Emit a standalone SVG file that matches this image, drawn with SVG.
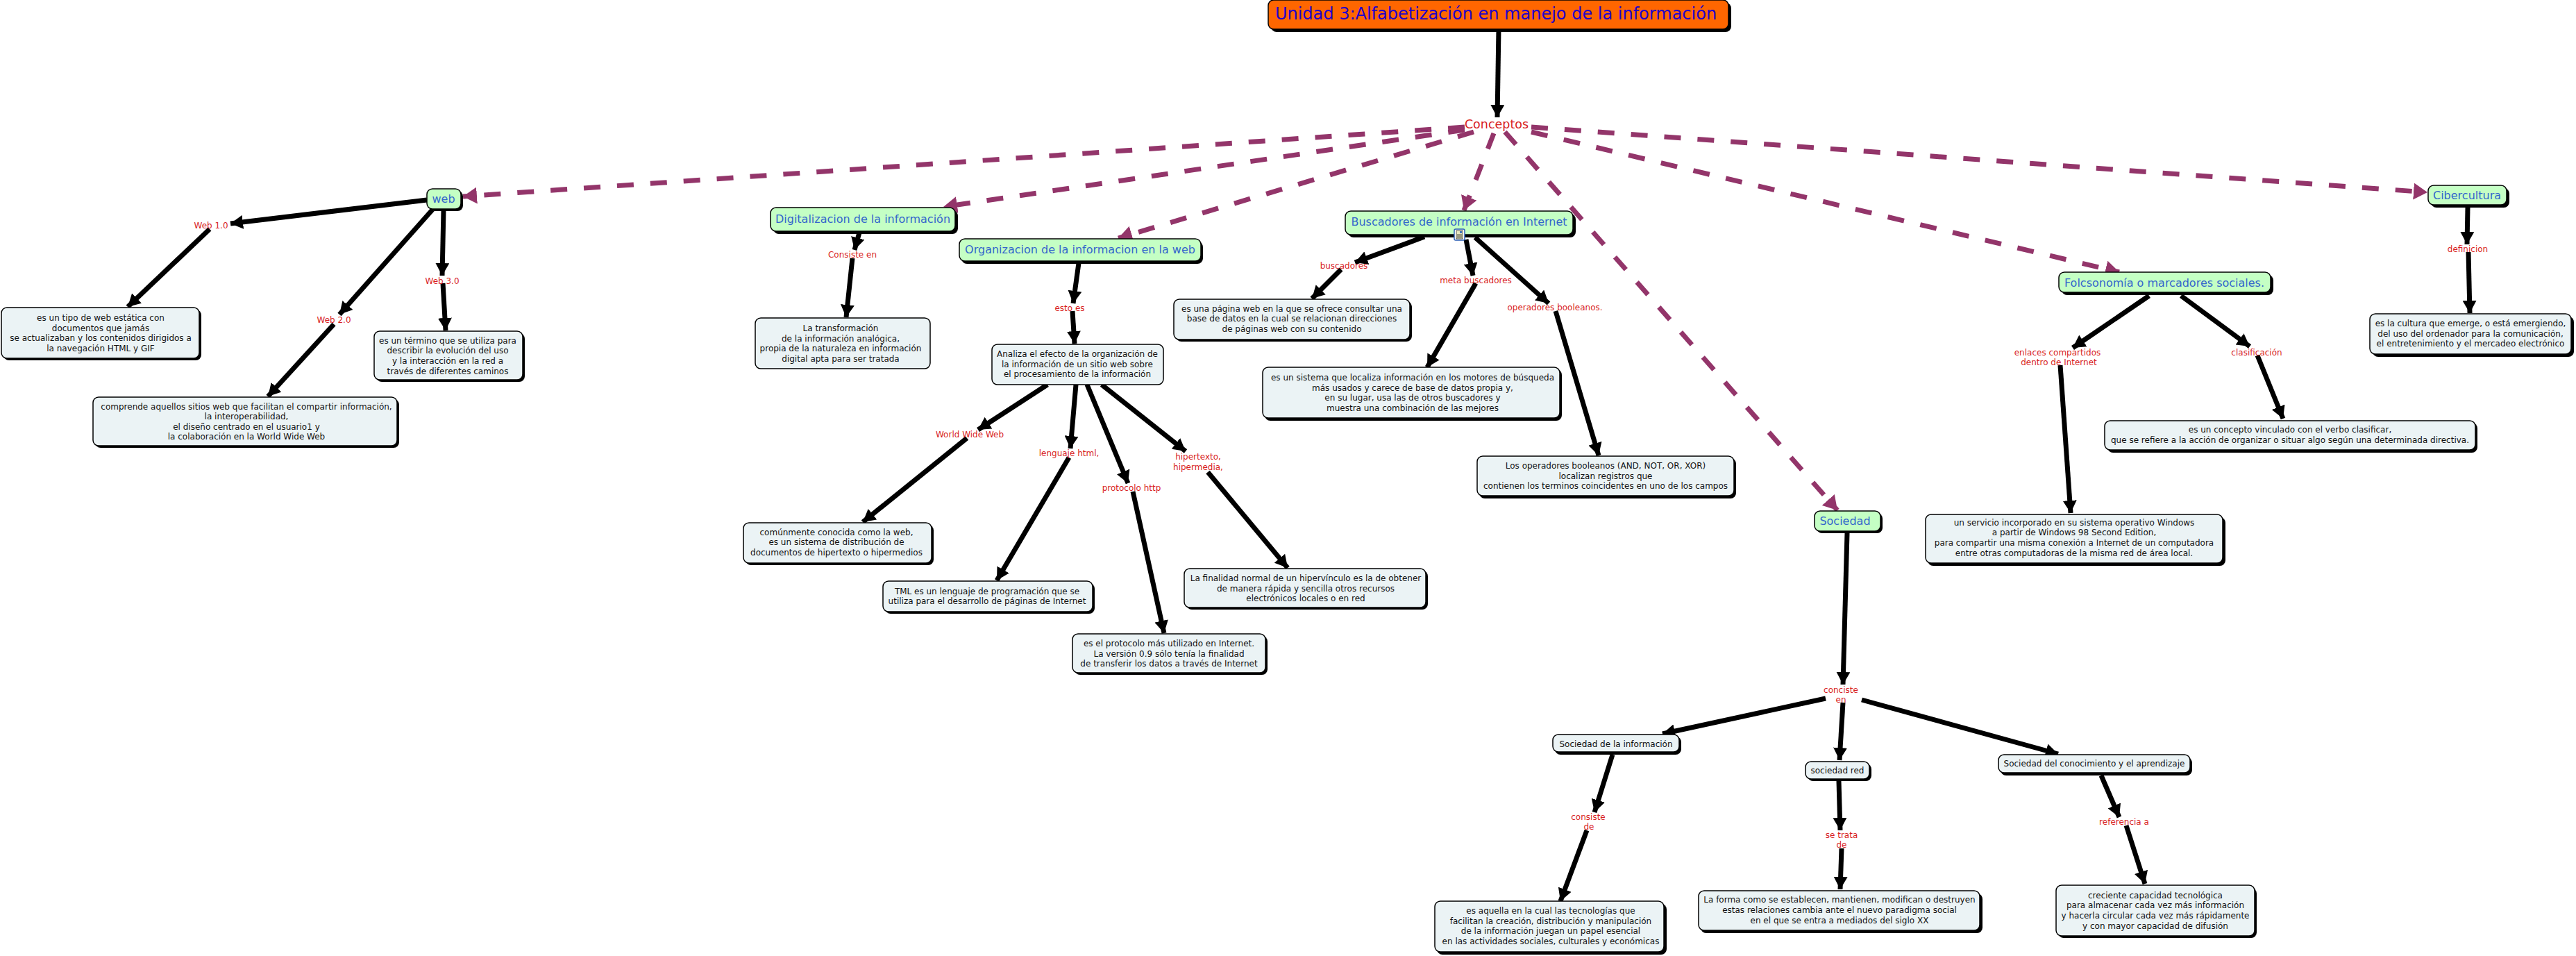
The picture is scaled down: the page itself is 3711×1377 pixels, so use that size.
<svg xmlns="http://www.w3.org/2000/svg" width="3711" height="1377" viewBox="0 0 3711 1377">
<style>
text{font-family:"DejaVu Sans",sans-serif;text-anchor:middle}
.s{fill:#000}
.c{fill:#c4ffc4;stroke:#000;stroke-width:1.5}
.d{fill:#ebf3f5;stroke:#000;stroke-width:1.5}
.ct{font-size:16px;fill:#3366cc}
.dt{font-size:12px;fill:#111}
.lt{font-size:12px;fill:#d81e24}
.a{stroke:#000;stroke-width:7;fill:none;marker-end:url(#ah)}
.b{stroke:#93356a;stroke-width:7;fill:none;stroke-dasharray:24 24;marker-end:url(#ap)}
</style>
<defs>
<marker id="ah" markerUnits="userSpaceOnUse" markerWidth="20" markerHeight="20" refX="18" refY="10" orient="auto"><path d="M0 0L18 10L0 20Z" fill="#000"/></marker>
<marker id="ap" markerUnits="userSpaceOnUse" markerWidth="22" markerHeight="24" refX="20" refY="12" orient="auto"><path d="M0 0L20 12L0 24Z" fill="#93356a"/></marker>
</defs>
<rect width="3711" height="1377" fill="#fff"/>
<g id="connectors">
<path class="a" d="M2159 42L2157 169"/>
<path class="b" d="M2110 183L667 283"/>
<path class="b" d="M2110 187L1359 298"/>
<path class="b" d="M2123 190L1611 343"/>
<path class="b" d="M2152 192L2109 303"/>
<path class="b" d="M2168 190L2647 735"/>
<path class="b" d="M2206 190L3053 392"/>
<path class="b" d="M2206 183L3497 277"/>
<path class="a" d="M615 288L332 322"/>
<path class="a" d="M302 330L184 442"/>
<path class="a" d="M623 302L489 453"/>
<path class="a" d="M481 467L386 571"/>
<path class="a" d="M639 303L637 397"/>
<path class="a" d="M638 408L642 476"/>
<path class="a" d="M1238 335L1231 360"/>
<path class="a" d="M1228 372L1219 457"/>
<path class="a" d="M1554 379L1546 437"/>
<path class="a" d="M1545 448L1548 495"/>
<path class="a" d="M1509 554L1409 619"/>
<path class="a" d="M1393 631L1243 752"/>
<path class="a" d="M1550 554L1542 646"/>
<path class="a" d="M1540 659L1436 836"/>
<path class="a" d="M1566 554L1625 696"/>
<path class="a" d="M1632 708L1677 912"/>
<path class="a" d="M1587 554L1708 650"/>
<path class="a" d="M1740 680L1855 818"/>
<path class="a" d="M2052 341L1952 378"/>
<path class="a" d="M1932 388L1890 430"/>
<path class="a" d="M2112 345L2122 397"/>
<path class="a" d="M2126 408L2056 529"/>
<path class="a" d="M2125 342L2231 437"/>
<path class="a" d="M2241 448L2303 656"/>
<path class="a" d="M3096 426L2986 501"/>
<path class="a" d="M2968 526L2983 739"/>
<path class="a" d="M3142 426L3241 499"/>
<path class="a" d="M3252 512L3289 603"/>
<path class="a" d="M3555 299L3554 352"/>
<path class="a" d="M3556 363L3558 451"/>
<path class="a" d="M2661 768L2655 986"/>
<path class="a" d="M2630 1006L2395 1057"/>
<path class="a" d="M2655 1012L2650 1095"/>
<path class="a" d="M2682 1008L2965 1086"/>
<path class="a" d="M2323 1087L2297 1170"/>
<path class="a" d="M2286 1196L2248 1298"/>
<path class="a" d="M2649 1125L2651 1196"/>
<path class="a" d="M2653 1222L2651 1281"/>
<path class="a" d="M3027 1117L3053 1177"/>
<path class="a" d="M3063 1189L3090 1273"/>
</g>
<g id="n-root"><rect class="s" x="1831" y="4" width="663" height="42" rx="8"/><rect x="1827" y="0" width="663" height="42" rx="8" fill="#ff6600" stroke="#000" stroke-width="1.5"/><text x="2155" y="28" font-size="24" fill="#2200cc">Unidad 3:Alfabetización en manejo de la información</text></g>
<g id="n-conceptos"><text x="2156" y="185" font-size="17.5" fill="#d81e24">Conceptos</text></g>
<g id="n-web"><rect class="s" x="618" y="275" width="49" height="29" rx="8"/><rect class="c" x="615" y="272" width="49" height="29" rx="8"/><text class="ct" x="639" y="292">web</text></g>
<g id="n-dig"><rect class="s" x="1114" y="303" width="266" height="34" rx="8"/><rect class="c" x="1110" y="299" width="266" height="34" rx="8"/><text class="ct" x="1243" y="321">Digitalizacion de la información</text></g>
<g id="n-org"><rect class="s" x="1385" y="348" width="348" height="32" rx="8"/><rect class="c" x="1382" y="344" width="348" height="32" rx="8"/><text class="ct" x="1556" y="365">Organizacion de la informacion en la web</text></g>
<g id="n-bus"><rect class="s" x="1942" y="308" width="328" height="34" rx="8"/><rect class="c" x="1938" y="304" width="328" height="34" rx="8"/><text class="ct" x="2102" y="325">Buscadores de información en Internet</text></g>
<g id="n-soc"><rect class="s" x="2617" y="739" width="95" height="29" rx="8"/><rect class="c" x="2614" y="736" width="95" height="29" rx="8"/><text class="ct" x="2658" y="756">Sociedad</text></g>
<g id="n-fol"><rect class="s" x="2970" y="396" width="305" height="29" rx="8"/><rect class="c" x="2966" y="392" width="305" height="29" rx="8"/><text class="ct" x="3118" y="413">Folcsonomía o marcadores sociales.</text></g>
<g id="n-cib"><rect class="s" x="3502" y="271" width="113" height="28" rx="8"/><rect class="c" x="3498" y="267" width="113" height="28" rx="8"/><text class="ct" x="3554" y="287">Cibercultura</text></g>
<g id="l-web1"><text class="lt" x="304" y="329">Web 1.0</text></g>
<g id="l-web2"><text class="lt" x="481" y="465">Web 2.0</text></g>
<g id="l-web3"><text class="lt" x="637" y="409">Web 3.0</text></g>
<g id="l-cons"><text class="lt" x="1228" y="371">Consiste en</text></g>
<g id="l-esto"><text class="lt" x="1541" y="448">esto es</text></g>
<g id="l-www"><text class="lt" x="1397" y="630">World Wide Web</text></g>
<g id="l-len"><text class="lt" x="1540" y="657">lenguaje html,</text></g>
<g id="l-pro"><text class="lt" x="1630" y="707">protocolo http</text></g>
<g id="l-hip"><text class="lt" x="1726" y="662">hipertexto,</text><text class="lt" x="1726" y="677">hipermedia,</text></g>
<g id="l-bus"><text class="lt" x="1936" y="387">buscadores</text></g>
<g id="l-met"><text class="lt" x="2126" y="408">meta buscadores</text></g>
<g id="l-ope"><text class="lt" x="2240" y="447">operadores booleanos.</text></g>
<g id="l-enl"><text class="lt" x="2964" y="512">enlaces compartidos</text><text class="lt" x="2966" y="526">dentro de Internet</text></g>
<g id="l-cla"><text class="lt" x="3251" y="512">clasificación</text></g>
<g id="l-def"><text class="lt" x="3555" y="363">definicion</text></g>
<g id="l-con"><text class="lt" x="2652" y="998">conciste</text><text class="lt" x="2652" y="1012">en</text></g>
<g id="l-csi"><text class="lt" x="2288" y="1181">consiste</text><text class="lt" x="2289" y="1195">de</text></g>
<g id="l-set"><text class="lt" x="2653" y="1207">se trata</text><text class="lt" x="2653" y="1221">de</text></g>
<g id="l-ref"><text class="lt" x="3060" y="1188">referencia a</text></g>
<g id="n-d1"><rect class="s" x="5" y="446" width="285" height="73" rx="8"/><rect class="d" x="2" y="443" width="285" height="73" rx="8"/><text class="dt" x="145" y="462">es un tipo de web estática con</text><text class="dt" x="145" y="477">documentos que jamás</text><text class="dt" x="145" y="491">se actualizaban y los contenidos dirigidos a</text><text class="dt" x="145" y="506">la navegación HTML y GIF</text></g>
<g id="n-d2"><rect class="s" x="137" y="575" width="438" height="70" rx="8"/><rect class="d" x="134" y="572" width="438" height="70" rx="8"/><text class="dt" x="355" y="590">comprende aquellos sitios web que facilitan el compartir información,</text><text class="dt" x="355" y="604">la interoperabilidad,</text><text class="dt" x="355" y="619">el diseño centrado en el usuario1 y</text><text class="dt" x="355" y="633">la colaboración en la World Wide Web</text></g>
<g id="n-d3"><rect class="s" x="542" y="480" width="214" height="70" rx="8"/><rect class="d" x="539" y="477" width="214" height="70" rx="8"/><text class="dt" x="645" y="495">es un término que se utiliza para</text><text class="dt" x="645" y="509">describir la evolución del uso</text><text class="dt" x="645" y="524">y la interacción en la red a</text><text class="dt" x="645" y="539">través de diferentes caminos</text></g>
<g id="n-d4"><rect class="d" x="1088" y="458" width="252" height="73" rx="8"/><text class="dt" x="1211" y="477">La transformación</text><text class="dt" x="1211" y="492">de la información analógica,</text><text class="dt" x="1211" y="506">propia de la naturaleza en información</text><text class="dt" x="1211" y="521">digital apta para ser tratada</text></g>
<g id="n-d5"><rect class="d" x="1429" y="496" width="247" height="58" rx="8"/><text class="dt" x="1552" y="514">Analiza el efecto de la organización de</text><text class="dt" x="1552" y="529">la información de un sitio web sobre</text><text class="dt" x="1552" y="543">el procesamiento de la información</text></g>
<g id="n-d6"><rect class="s" x="1074" y="756" width="271" height="58" rx="8"/><rect class="d" x="1071" y="753" width="271" height="58" rx="8"/><text class="dt" x="1205" y="771">comúnmente conocida como la web,</text><text class="dt" x="1205" y="785">es un sistema de distribución de</text><text class="dt" x="1205" y="800">documentos de hipertexto o hipermedios</text></g>
<g id="n-d7"><rect class="s" x="1275" y="840" width="302" height="44" rx="8"/><rect class="d" x="1272" y="837" width="302" height="44" rx="8"/><text class="dt" x="1422" y="856">TML es un lenguaje de programación que se</text><text class="dt" x="1422" y="870">utiliza para el desarrollo de páginas de Internet</text></g>
<g id="n-d8"><rect class="s" x="1548" y="916" width="278" height="56" rx="8"/><rect class="d" x="1545" y="913" width="278" height="56" rx="8"/><text class="dt" x="1684" y="931">es el protocolo más utilizado en Internet.</text><text class="dt" x="1684" y="946">La versión 0.9 sólo tenía la finalidad</text><text class="dt" x="1684" y="960">de transferir los datos a través de Internet</text></g>
<g id="n-d9"><rect class="s" x="1709" y="822" width="348" height="56" rx="8"/><rect class="d" x="1706" y="819" width="348" height="56" rx="8"/><text class="dt" x="1881" y="837">La finalidad normal de un hipervínculo es la de obtener</text><text class="dt" x="1881" y="852">de manera rápida y sencilla otros recursos</text><text class="dt" x="1881" y="866">electrónicos locales o en red</text></g>
<g id="n-d10"><rect class="s" x="1694" y="434" width="340" height="58" rx="8"/><rect class="d" x="1691" y="431" width="340" height="58" rx="8"/><text class="dt" x="1861" y="449">es una página web en la que se ofrece consultar una</text><text class="dt" x="1861" y="463">base de datos en la cual se relacionan direcciones</text><text class="dt" x="1861" y="478">de páginas web con su contenido</text></g>
<g id="n-d11"><rect class="s" x="1822" y="532" width="428" height="74" rx="8"/><rect class="d" x="1819" y="529" width="428" height="73" rx="8"/><text class="dt" x="2035" y="548">es un sistema que localiza información en los motores de búsqueda</text><text class="dt" x="2035" y="563">más usados y carece de base de datos propia y,</text><text class="dt" x="2035" y="577">en su lugar, usa las de otros buscadores y</text><text class="dt" x="2035" y="592">muestra una combinación de las mejores</text></g>
<g id="n-d12"><rect class="s" x="2131" y="660" width="370" height="58" rx="8"/><rect class="d" x="2128" y="657" width="370" height="57" rx="8"/><text class="dt" x="2313" y="675">Los operadores booleanos (AND, NOT, OR, XOR)</text><text class="dt" x="2313" y="690">localizan registros que</text><text class="dt" x="2313" y="704">contienen los terminos coincidentes en uno de los campos</text></g>
<g id="n-d13"><rect class="s" x="2777" y="745" width="429" height="70" rx="8"/><rect class="d" x="2774" y="741" width="428" height="70" rx="8"/><text class="dt" x="2988" y="757">un servicio incorporado en su sistema operativo Windows</text><text class="dt" x="2988" y="771">a partir de Windows 98 Second Edition,</text><text class="dt" x="2988" y="786">para compartir una misma conexión a Internet de un computadora</text><text class="dt" x="2988" y="801">entre otras computadoras de la misma red de área local.</text></g>
<g id="n-d14"><rect class="s" x="3036" y="609" width="533" height="43" rx="8"/><rect class="d" x="3032" y="606" width="534" height="42" rx="8"/><text class="dt" x="3299" y="623">es un concepto vinculado con el verbo clasificar,</text><text class="dt" x="3299" y="638">que se refiere a la acción de organizar o situar algo según una determinada directiva.</text></g>
<g id="n-d15"><rect class="s" x="3418" y="456" width="290" height="58" rx="8"/><rect class="d" x="3414" y="452" width="290" height="58" rx="8"/><text class="dt" x="3559" y="470">es la cultura que emerge, o está emergiendo,</text><text class="dt" x="3559" y="485">del uso del ordenador para la comunicación,</text><text class="dt" x="3559" y="499">el entretenimiento y el mercadeo electrónico</text></g>
<g id="n-s1"><rect class="s" x="2240" y="1061" width="182" height="26" rx="8"/><rect class="d" x="2237" y="1058" width="182" height="25" rx="8"/><text class="dt" x="2328" y="1076">Sociedad de la información</text></g>
<g id="n-s2"><rect class="s" x="2604" y="1100" width="92" height="25" rx="8"/><rect class="d" x="2601" y="1097" width="92" height="25" rx="8"/><text class="dt" x="2647" y="1114">sociedad red</text></g>
<g id="n-s3"><rect class="s" x="2882" y="1091" width="276" height="26" rx="8"/><rect class="d" x="2879" y="1087" width="276" height="26" rx="8"/><text class="dt" x="3017" y="1104">Sociedad del conocimiento y el aprendizaje</text></g>
<g id="n-s4"><rect class="s" x="2070" y="1302" width="331" height="73" rx="8"/><rect class="d" x="2067" y="1298" width="330" height="73" rx="8"/><text class="dt" x="2234" y="1316">es aquella en la cual las tecnologías que</text><text class="dt" x="2234" y="1331">facilitan la creación, distribución y manipulación</text><text class="dt" x="2234" y="1345">de la información juegan un papel esencial</text><text class="dt" x="2234" y="1360">en las actividades sociales, culturales y económicas</text></g>
<g id="n-s5"><rect class="s" x="2450" y="1287" width="406" height="57" rx="8"/><rect class="d" x="2447" y="1283" width="405" height="57" rx="8"/><text class="dt" x="2650" y="1300">La forma como se establecen, mantienen, modifican o destruyen</text><text class="dt" x="2650" y="1315">estas relaciones cambia ante el nuevo paradigma social</text><text class="dt" x="2650" y="1330">en el que se entra a mediados del siglo XX</text></g>
<g id="n-s6"><rect class="s" x="2965" y="1279" width="286" height="72" rx="8"/><rect class="d" x="2962" y="1275" width="286" height="73" rx="8"/><text class="dt" x="3105" y="1294">creciente capacidad tecnológica</text><text class="dt" x="3105" y="1308">para almacenar cada vez más información</text><text class="dt" x="3105" y="1323">y hacerla circular cada vez más rápidamente</text><text class="dt" x="3105" y="1338">y con mayor capacidad de difusión</text></g>
<g id="icon"><rect x="2095" y="330" width="15" height="16" rx="2" fill="#fff" stroke="#2b5fb5" stroke-width="1.5"/><rect x="2098" y="332" width="9" height="12" fill="#e8e8c0" stroke="#333" stroke-width=".8"/><path d="M2099 338h7M2099 340h7M2099 342h7" stroke="#222" stroke-width=".8"/><rect x="2103" y="333" width="3" height="3" fill="#4477bb"/></g>
</svg>
